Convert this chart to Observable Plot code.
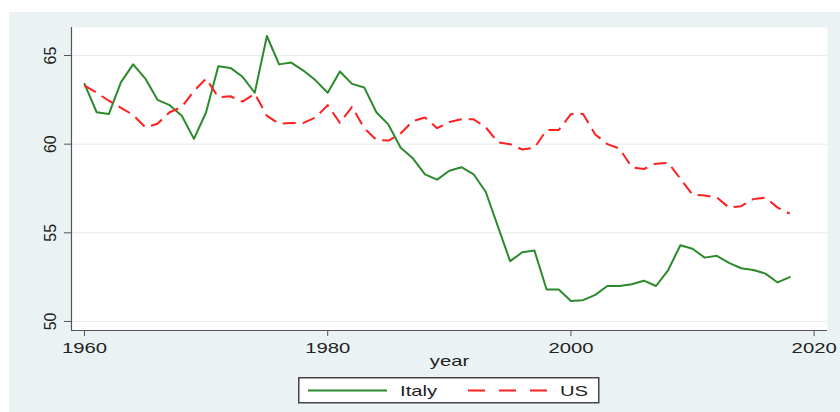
<!DOCTYPE html>
<html><head><meta charset="utf-8">
<script src="https://cdn.jsdelivr.net/npm/d3@7"></script>
<script src="https://cdn.jsdelivr.net/npm/@observablehq/plot@0.6"></script>
<style>
html,body{margin:0;padding:0;background:#fff;width:840px;height:412px;overflow:hidden;font-family:"Liberation Sans",Arial,sans-serif;}
#bg{position:absolute;left:9px;top:12px;width:831px;height:400px;background:#EAF2F3;}
#chart{position:absolute;left:0;top:0;}
#legend{position:absolute;left:298px;top:377px;}
</style></head><body>
<div id="bg"></div><div id="chart"></div><div id="legend"></div>
<script>
const years = [1960,1961,1962,1963,1964,1965,1966,1967,1968,1969,
  1970,1971,1972,1973,1974,1975,1976,1977,1978,1979,
  1980,1981,1982,1983,1984,1985,1986,1987,1988,1989,
  1990,1991,1992,1993,1994,1995,1996,1997,1998,1999,
  2000,2001,2002,2003,2004,2005,2006,2007,2008,2009,
  2010,2011,2012,2013,2014,2015,2016,2017,2018];
const italy = [63.4,61.8,61.7,63.5,64.5,63.7,62.5,62.2,61.6,60.3,
  61.8,64.4,64.3,63.8,62.9,66.1,64.5,64.6,64.15,63.6,
  62.9,64.1,63.4,63.2,61.8,61.1,59.8,59.2,58.3,58.0,
  58.5,58.7,58.3,57.3,55.35,53.4,53.9,54.0,51.8,51.8,
  51.15,51.2,51.5,52.0,52.0,52.1,52.3,52.0,52.9,54.3,
  54.1,53.6,53.7,53.3,53.0,52.9,52.7,52.2,52.5];
const us = [63.3,62.9,62.45,62.05,61.65,60.95,61.15,61.8,62.1,63.0,
  63.7,62.65,62.7,62.4,62.85,61.6,61.15,61.2,61.2,61.5,
  62.2,61.2,62.1,60.9,60.25,60.2,60.6,61.3,61.5,60.9,
  61.25,61.4,61.4,60.95,60.1,60.0,59.7,59.8,60.8,60.8,
  61.7,61.7,60.55,60.0,59.75,58.7,58.6,58.9,58.95,58.05,
  57.15,57.1,57.0,56.42,56.5,56.9,56.98,56.42,56.08];
const seriesNames = ["Italy", "US"];
const xTicks = [1960, 1980, 2000, 2020];
const yTicks = [50, 55, 60, 65];
const xLabel = "year";

const colors = {Italy: "#2b8a2b", US: "#ff1f1f"};
const dash = {Italy: null, US: "13,7"};
const xDomain = [1958.93, 2021.1];
const yDomain = [49.49, 66.58];
const STRETCH = 1.35;

const rowsItaly = years.map((y, i) => ({year: y, value: italy[i]}));
const rowsUS = years.map((y, i) => ({year: y, value: us[i]}));

const plot = Plot.plot({
  width: 840,
  height: 372,
  marginLeft: 71,
  marginRight: 13,
  marginTop: 27,
  marginBottom: 42,
  style: {background: "transparent", fontFamily: "'Liberation Sans', Arial, sans-serif", fontSize: "15px", color: "#222"},
  x: {domain: xDomain},
  y: {domain: yDomain},
  marks: [
    Plot.frame({fill: "white", stroke: null}),
    Plot.gridY(yTicks, {stroke: "#e4edf0", strokeOpacity: 1, strokeWidth: 1}),
    Plot.ruleX([xDomain[0]], {stroke: "#555", strokeWidth: 1.2}),
    Plot.ruleY([yDomain[0]], {stroke: "#555", strokeWidth: 1.2}),
    Plot.axisY(yTicks, {tickSize: 7, tickRotate: -90, tickPadding: 9, fontSize: 16, label: null, stroke: "#555", fill: "#222", tickFormat: d => String(d)}),
    Plot.axisX(xTicks, {tickSize: 6, tickPadding: 6, label: null, stroke: "#555", fill: "#222", tickFormat: d => String(d)}),
    Plot.text([xLabel], {frameAnchor: "bottom", dy: 35, lineAnchor: "bottom", fill: "#222", fontSize: 15}),
    Plot.line(rowsItaly, {x: "year", y: "value", stroke: colors.Italy, strokeWidth: 2}),
    Plot.line(rowsUS, {x: "year", y: "value", stroke: colors.US, strokeWidth: 2, strokeDasharray: dash.US, strokeLinecap: "butt"})
  ]
});
document.getElementById("chart").append(plot);

// horizontally stretch horizontal texts to mimic the reference's wide glyphs
function stretch(t) {
  const w = t.getComputedTextLength();
  if (w > 0) {
    t.setAttribute("textLength", (w * STRETCH).toFixed(2));
    t.setAttribute("lengthAdjust", "spacingAndGlyphs");
  }
}
plot.querySelectorAll('g[aria-label="x-axis tick label"] text, g[aria-label="text"] text').forEach(stretch);

// legend
const L = d3.select("#legend").append("svg").attr("width", 302).attr("height", 27)
  .style("font-family", "'Liberation Sans', Arial, sans-serif").style("font-size", "15px");
L.append("rect").attr("x", 0.75).attr("y", 0.75).attr("width", 300).attr("height", 25)
  .attr("fill", "white").attr("stroke", "#444").attr("stroke-width", 1.5);
const items = [
  {name: seriesNames[0], x1: 10, x2: 89, tx: 102},
  {name: seriesNames[1], x1: 170, x2: 249, tx: 262}
];
items.forEach(it => {
  L.append("line").attr("x1", it.x1).attr("x2", it.x2).attr("y1", 13.5).attr("y2", 13.5)
    .attr("stroke", colors[it.name]).attr("stroke-width", 2)
    .attr("stroke-dasharray", dash[it.name] ? "17,14" : null);
  const t = L.append("text").attr("x", it.tx).attr("y", 18.5).attr("fill", "#222").text(it.name);
  stretch(t.node());
});
</script>
</body></html>
